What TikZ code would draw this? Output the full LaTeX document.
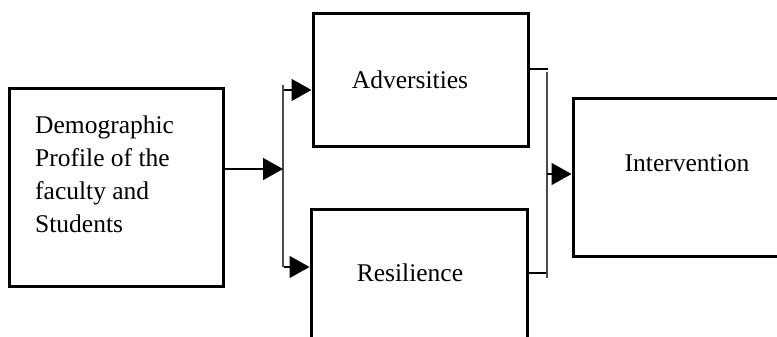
\documentclass[tikz,border=0pt]{standalone}
\usepackage{fontspec}
\setmainfont{Liberation Serif}
\usetikzlibrary{arrows.meta}
\begin{document}
\begin{tikzpicture}[x=1pt,y=-1pt,
  box/.style={draw=black,line width=3pt,rectangle,inner sep=0pt},
  lbl/.style={font=\fontsize{25.5}{33}\selectfont,inner sep=0pt},
  conn/.style={line width=1.4pt,draw=black},
  bar/.style={line width=1.2pt,draw=black!70},
  arr/.style={conn,-{Triangle[length=20pt,width=22pt,color=black,fill=black]}}]
\useasboundingbox (0,0) rectangle (777,337);
\clip (0,0) rectangle (777,337);
% boxes
\node[box,minimum width=214pt,minimum height=197pt] (demo) at (116,187.5) {};
\node[box,minimum width=215pt,minimum height=132pt] (adv) at (420.5,80) {};
\node[box,minimum width=216pt,minimum height=151pt] (res) at (419,284.5) {};
\node[box,minimum width=227pt,minimum height=157pt] (int) at (686.5,177.5) {};
% texts
\node[lbl,align=left,anchor=west] (demotxt) at (35,174) {Demographic\\Profile of the\\faculty and\\Students};
\node[lbl] (advtxt) at (410,80) {Adversities};
\node[lbl] (restxt) at (410,273) {Resilience};
\node[lbl] (inttxt) at (687,163) {Intervention};
% junction coordinates
\coordinate (b1t) at (283,85);
\coordinate (b1b) at (283,267);
\coordinate (j1) at (283,169);
\coordinate (j1a) at (284,90);
\coordinate (j1b) at (284,267);
\coordinate (b2t) at (547,72);
\coordinate (b2b) at (547,278);
\coordinate (j2a) at (548,69);
\coordinate (j2b) at (548,273);
\coordinate (j2) at (547,174);
% connectors
\draw[bar] (b1t) -- (b1b);
\draw[arr] (demo.east |- j1) -- (j1);
\draw[arr] (j1a) -- (adv.west |- j1a);
\draw[arr] (j1b) -- (res.west |- j1b);
\draw[conn] (adv.east |- j2a) -- (j2a);
\draw[conn] (res.east |- j2b) -- (j2b);
\draw[bar] (b2t) -- (b2b);
\draw[arr] (j2) -- (int.west |- j2);
\end{tikzpicture}
\end{document}
